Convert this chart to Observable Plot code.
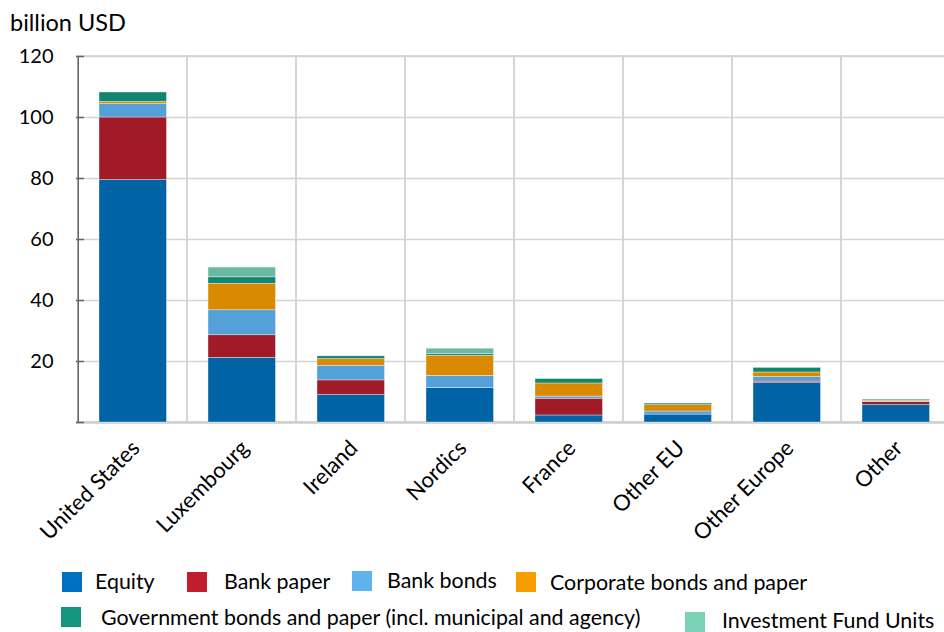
<!DOCTYPE html>
<html>
<head>
<meta charset="utf-8">
<script src="https://cdn.jsdelivr.net/npm/d3@7"></script>
<script src="https://cdn.jsdelivr.net/npm/@observablehq/plot@0.6"></script>
<style>
  html, body { margin: 0; padding: 0; background: #fff; overflow: hidden; }
  body { width: 944px; height: 632px; position: relative; font-family: Lato, "Open Sans", sans-serif; color: #000; }
  #title { position: absolute; left: 10px; top: 7px; font-size: 23.5px; line-height: 30px; }
  #chart { position: absolute; left: 0; top: 0; width: 952px; }
  #chart svg { max-width: none !important; width: 952px !important; height: 560px !important; }
  .lg { position: absolute; font-size: 21.4px; line-height: 22px; white-space: nowrap; }
  .sw { position: absolute; width: 20px; height: 20px; }
</style>
</head>
<body>
<div id="chart"></div>
<div id="title">billion USD</div>
<div id="legend"></div>
<script>
const categories = ["United States", "Luxembourg", "Ireland", "Nordics", "France", "Other EU", "Other Europe", "Other"];
const seriesNames = ["Equity", "Bank paper", "Bank bonds", "Corporate bonds and paper", "Government bonds and paper (incl. municipal and agency)", "Investment Fund Units"];
const equity     = [79.5, 21.2, 9.0, 11.3, 2.3, 2.6, 12.9, 5.7];
const bankPaper  = [20.5, 7.4, 4.8, 0.0, 5.5, 0.0, 0.5, 1.0];
const bankBonds  = [4.4, 8.2, 4.8, 4.0, 0.7, 1.0, 1.5, 0.2];
const corporate  = [0.7, 8.7, 2.2, 6.6, 4.3, 2.1, 1.5, 0.3];
const government = [3.1, 2.1, 0.9, 0.6, 1.4, 0.5, 1.5, 0.3];
const fundUnits  = [0.0, 3.2, 0.0, 1.7, 0.2, 0.0, 0.0, 0.0];
const yTicks = [0, 20, 40, 60, 80, 100, 120];
const barColors = ["#0063a6", "#a11a28", "#54a0d8", "#d98a00", "#10866f", "#6cb9a2"];
const legendColors = ["#0070c0", "#be1e2d", "#5eb3ee", "#f59c00", "#12977e", "#7ad1b6"];

const seriesValues = [equity, bankPaper, bankBonds, corporate, government, fundUnits];
const rows = [];
seriesNames.forEach((s, i) => {
  categories.forEach((c, j) => rows.push({category: c, series: s, value: seriesValues[i][j]}));
});

const fontFamily = "Lato, 'Open Sans', sans-serif";
const chart = Plot.plot({
  width: 952,
  height: 560,
  marginLeft: 76,
  marginRight: 0,
  marginTop: 56,
  marginBottom: 138,
  style: {fontFamily, fontSize: "20px", color: "#000", background: "transparent", overflow: "visible", maxWidth: "none"},
  x: {domain: categories, padding: 0, label: null},
  y: {domain: [0, 120], ticks: yTicks, label: null},
  color: {domain: seriesNames, range: barColors},
  marks: [
    Plot.barY(categories, {x: d => d, y1: 0, y2: 120, fill: "none", stroke: "#d4d4d4", strokeWidth: 1.5}),
    Plot.ruleY(yTicks, {stroke: "#d4d4d4", strokeWidth: 1.5}),
    Plot.ruleY([0], {stroke: "#cfcfcf", strokeWidth: 2.5}),
    Plot.barY(rows, Plot.stackY({
      x: "category", y: "value", fill: "series", order: seriesNames,
      insetLeft: 21, insetRight: 20.5, stroke: "#ffffff", strokeWidth: 0.6, strokeOpacity: 0.6
    })),
    Plot.axisY({ticks: yTicks, tickSize: -8, tickPadding: 31, stroke: "#666", strokeWidth: 1.5, fontSize: 20, tickFormat: d => d === 0 ? "" : String(d)}),
    Plot.ruleX([categories[0]], {y1: 0, y2: 120, dx: -54.75, stroke: "#666", strokeWidth: 1.5}),
    Plot.axisX({tickSize: 0, tickPadding: 22, tickRotate: -45, fontSize: 22, dx: 3})
  ]
});
document.getElementById("chart").appendChild(chart);

// Legend (HTML)
const legendLayout = [
  {sx: 62, sy: 572, tx: 95, ty: 570},
  {sx: 187, sy: 572, tx: 224, ty: 570},
  {sx: 352, sy: 571, tx: 387, ty: 569},
  {sx: 516, sy: 572, tx: 550, ty: 571},
  {sx: 61, sy: 607, tx: 101, ty: 606},
  {sx: 685, sy: 612, tx: 722, ty: 609}
];
const legend = document.getElementById("legend");
seriesNames.forEach((name, i) => {
  const p = legendLayout[i];
  const sw = document.createElement("div");
  sw.className = "sw";
  sw.style.left = p.sx + "px"; sw.style.top = p.sy + "px";
  sw.style.background = legendColors[i];
  legend.appendChild(sw);
  const t = document.createElement("div");
  t.className = "lg";
  t.style.left = p.tx + "px"; t.style.top = p.ty + "px";
  t.textContent = name;
  legend.appendChild(t);
});
</script>
</body>
</html>
